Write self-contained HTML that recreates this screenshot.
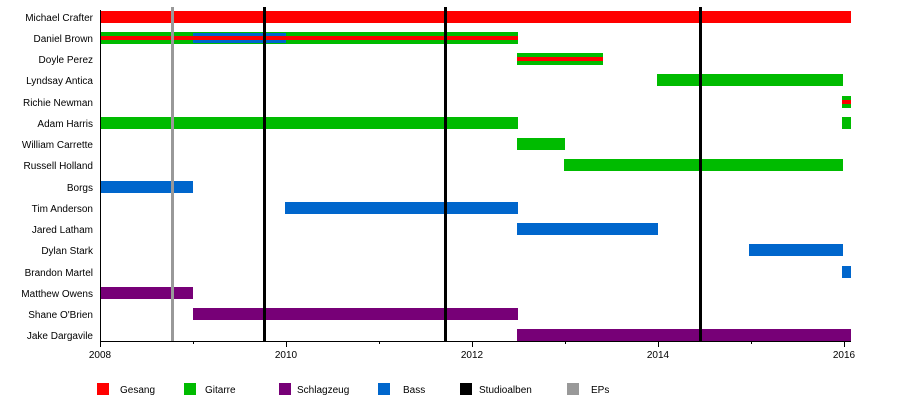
<!DOCTYPE html>
<html><head><meta charset="utf-8"><style>
html,body{margin:0;padding:0;background:#fff;}
svg{display:block;font-family:"Liberation Sans",sans-serif;}
</style></head><body>
<svg width="900" height="400" xmlns="http://www.w3.org/2000/svg">
<g font-size="10" fill="#000" text-anchor="end">
<text x="93" y="21">Michael Crafter</text>
<text x="93" y="42">Daniel Brown</text>
<text x="93" y="63">Doyle Perez</text>
<text x="93" y="84">Lyndsay Antica</text>
<text x="93" y="106">Richie Newman</text>
<text x="93" y="127">Adam Harris</text>
<text x="93" y="148">William Carrette</text>
<text x="93" y="169">Russell Holland</text>
<text x="93" y="191">Borgs</text>
<text x="93" y="212">Tim Anderson</text>
<text x="93" y="233">Jared Latham</text>
<text x="93" y="254">Dylan Stark</text>
<text x="93" y="276">Brandon Martel</text>
<text x="93" y="297">Matthew Owens</text>
<text x="93" y="318">Shane O'Brien</text>
<text x="93" y="339">Jake Dargavile</text>
</g>
<!-- bars -->
<rect x="100" y="11" width="751" height="12" fill="#ff0000"/>
<rect x="100" y="32" width="418" height="12" fill="#00bb00"/>
<rect x="193" y="33" width="93" height="10" fill="#0066cc"/>
<rect x="100" y="36" width="418" height="4" fill="#ff0000"/>
<rect x="517" y="53" width="86" height="12" fill="#00bb00"/>
<rect x="517" y="57" width="86" height="4" fill="#ff0000"/>
<rect x="657" y="74" width="186" height="12" fill="#00bb00"/>
<rect x="842" y="96" width="9" height="12" fill="#00bb00"/>
<rect x="842" y="100" width="9" height="4" fill="#ff0000"/>
<rect x="100" y="117" width="418" height="12" fill="#00bb00"/>
<rect x="842" y="117" width="9" height="12" fill="#00bb00"/>
<rect x="517" y="138" width="48" height="12" fill="#00bb00"/>
<rect x="564" y="159" width="279" height="12" fill="#00bb00"/>
<rect x="100" y="181" width="93" height="12" fill="#0066cc"/>
<rect x="285" y="202" width="233" height="12" fill="#0066cc"/>
<rect x="517" y="223" width="141" height="12" fill="#0066cc"/>
<rect x="749" y="244" width="94" height="12" fill="#0066cc"/>
<rect x="842" y="266" width="9" height="12" fill="#0066cc"/>
<rect x="100" y="287" width="93" height="12" fill="#770077"/>
<rect x="193" y="308" width="325" height="12" fill="#770077"/>
<rect x="517" y="329" width="334" height="12" fill="#770077"/>
<!-- vertical lines -->
<rect x="171" y="7" width="3" height="334" fill="#999"/>
<rect x="263" y="7" width="3" height="334" fill="#000"/>
<rect x="444" y="7" width="3" height="334" fill="#000"/>
<rect x="699" y="7" width="3" height="334" fill="#000"/>
<!-- axes -->
<rect x="100" y="10" width="1" height="332" fill="#000"/>
<rect x="100" y="341" width="751" height="1" fill="#000"/>
<g fill="#000">
<rect x="100" y="341" width="1" height="6"/>
<rect x="193" y="341" width="1" height="3"/>
<rect x="286" y="341" width="1" height="6"/>
<rect x="379" y="341" width="1" height="3"/>
<rect x="472" y="341" width="1" height="6"/>
<rect x="565" y="341" width="1" height="3"/>
<rect x="658" y="341" width="1" height="6"/>
<rect x="751" y="341" width="1" height="3"/>
<rect x="844" y="341" width="1" height="6"/>
</g>
<g font-size="10" text-anchor="middle" fill="#000">
<text x="100" y="358">2008</text>
<text x="286" y="358">2010</text>
<text x="472" y="358">2012</text>
<text x="658" y="358">2014</text>
<text x="844" y="358">2016</text>
</g>
<!-- legend -->
<g font-size="10" fill="#000">
<rect x="97" y="383" width="12" height="12" fill="#ff0000"/><text x="120" y="393">Gesang</text>
<rect x="184" y="383" width="12" height="12" fill="#00bb00"/><text x="205" y="393">Gitarre</text>
<rect x="279" y="383" width="12" height="12" fill="#770077"/><text x="297" y="393">Schlagzeug</text>
<rect x="378" y="383" width="12" height="12" fill="#0066cc"/><text x="403" y="393">Bass</text>
<rect x="460" y="383" width="12" height="12" fill="#000"/><text x="479" y="393">Studioalben</text>
<rect x="567" y="383" width="12" height="12" fill="#999"/><text x="591" y="393">EPs</text>
</g>
</svg>
</body></html>
